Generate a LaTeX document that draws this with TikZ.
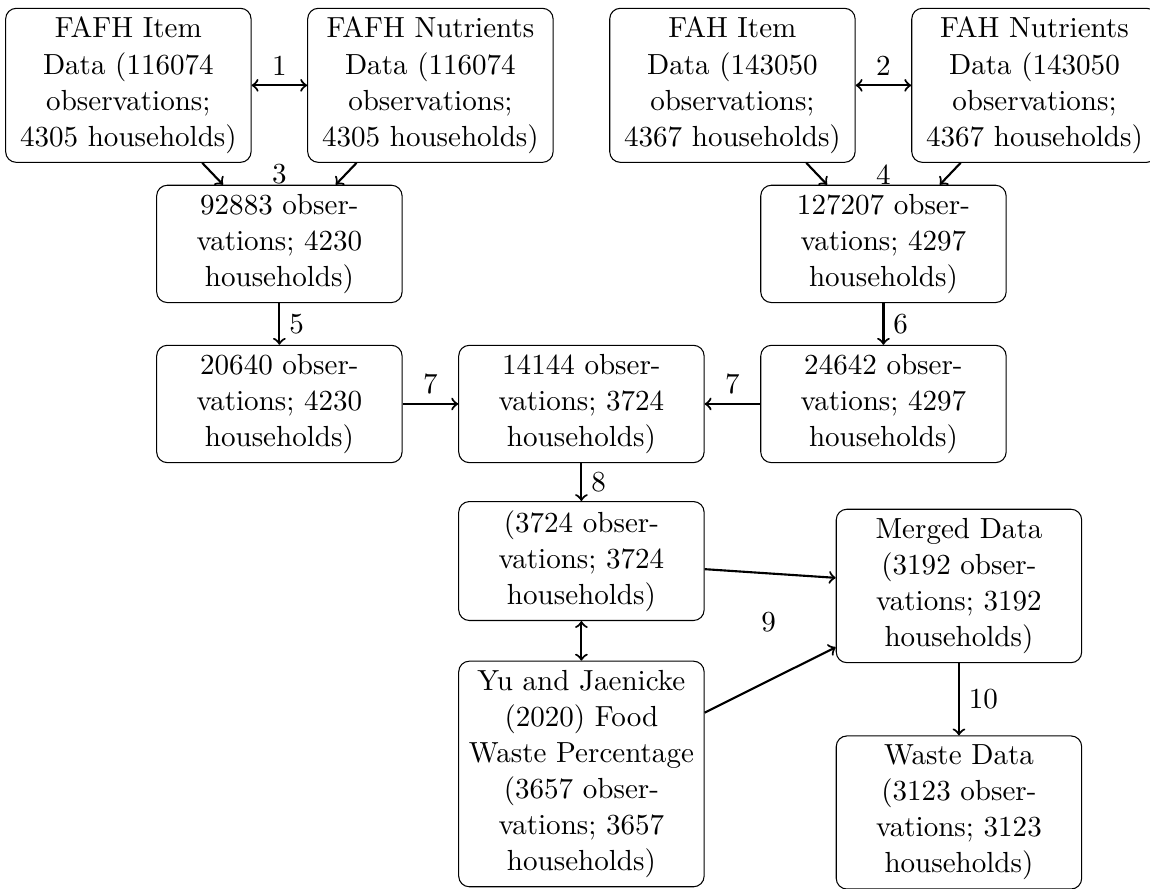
\documentclass[tikz,border=0pt]{standalone}
\usetikzlibrary{arrows}

\begin{document}
\begin{tikzpicture}[
    node distance=4cm,
    box/.style={
        rectangle, draw=black, rounded corners=4pt,
        minimum width=3.25cm, align=center,
        font=\fontsize{10.95}{13.6}\selectfont
    },
    lbl/.style={font=\fontsize{10.95}{13.6}\selectfont},
    arr/.style={->, thick, black},
]
\useasboundingbox (0,0) rectangle (15.23,-11.77);

% Source files
\node[box] (fafhitem) at (1.70,-1.13) {FAFH Item\\Data (116074\\observations;\\4305 households)};
\node[box, right of=fafhitem] (fafhnutr) {FAFH Nutrients\\Data (116074\\observations;\\4305 households)};
\node[box, right of=fafhnutr] (fahitem) {FAH Item\\Data (143050\\observations;\\4367 households)};
\node[box, right of=fahitem] (fahnutr) {FAH Nutrients\\Data (143050\\observations;\\4367 households)};

% Merged item and nutrients
\node[box, below of=fafhitem, node distance=2.1cm, xshift=2cm] (fafhmerge) {92883 obser-\\vations; 4230\\households)};
\node[box, below of=fahitem, node distance=2.1cm, xshift=2cm] (fahmerge) {127207 obser-\\vations; 4297\\households)};

% Subsets
\node[box, below of=fafhmerge, node distance=2.12cm] (fafhsub) {20640 obser-\\vations; 4230\\households)};
\node[box, below of=fahmerge, node distance=2.12cm] (fahsub) {24642 obser-\\vations; 4297\\households)};
\node[box, right of=fafhsub] (combined) {14144 obser-\\vations; 3724\\households)};
\node[box, below of=combined, node distance=2.08cm] (hhlevel) {(3724 obser-\\vations; 3724\\households)};
\node[box, below of=hhlevel, node distance=2.82cm] (yuwaste) {Yu and Jaenicke\\(2020) Food\\Waste Percentage\\(3657 obser-\\vations; 3657\\households)};

% Output
\node[box, right of=hhlevel, node distance=5cm, yshift=-0.33cm] (merged) {Merged Data\\(3192 obser-\\vations; 3192\\households)};
\node[box, below of=merged, node distance=3cm] (waste) {Waste Data\\(3123 obser-\\vations; 3123\\households)};

% Arrows
\draw[arr, <->] (fafhitem) -- node[lbl, above] {1} (fafhnutr);
\draw[arr, <->] (fahitem) -- node[lbl, above] {2} (fahnutr);
\draw[arr] (fafhitem) -- (fafhmerge);
\draw[arr] (fafhnutr) -- (fafhmerge);
\draw[arr] (fahitem) -- (fahmerge);
\draw[arr] (fahnutr) -- (fahmerge);
\node[lbl, anchor=south, inner sep=0pt] (lthree) at (fafhmerge.north) {3};
\node[lbl, anchor=south, inner sep=0pt] (lfour) at (fahmerge.north) {4};
\draw[arr] (fafhmerge) -- node[lbl, right] {5} (fafhsub);
\draw[arr] (fahmerge) -- node[lbl, right] {6} (fahsub);
\draw[arr] (fafhsub) -- node[lbl, above] {7} (combined);
\draw[arr] (fahsub) -- node[lbl, above] {7} (combined);
\draw[arr] (combined) -- node[lbl, right] {8} (hhlevel);
\draw[arr, <->] (hhlevel) -- (yuwaste);
\draw[arr] (hhlevel) -- (merged);
\draw[arr] (yuwaste) -- (merged);
\node[lbl, right of=hhlevel, node distance=2.48cm, yshift=-0.81cm] (lnine) {9};
\draw[arr] (merged) -- node[lbl, right] {10} (waste);

\end{tikzpicture}
\end{document}
